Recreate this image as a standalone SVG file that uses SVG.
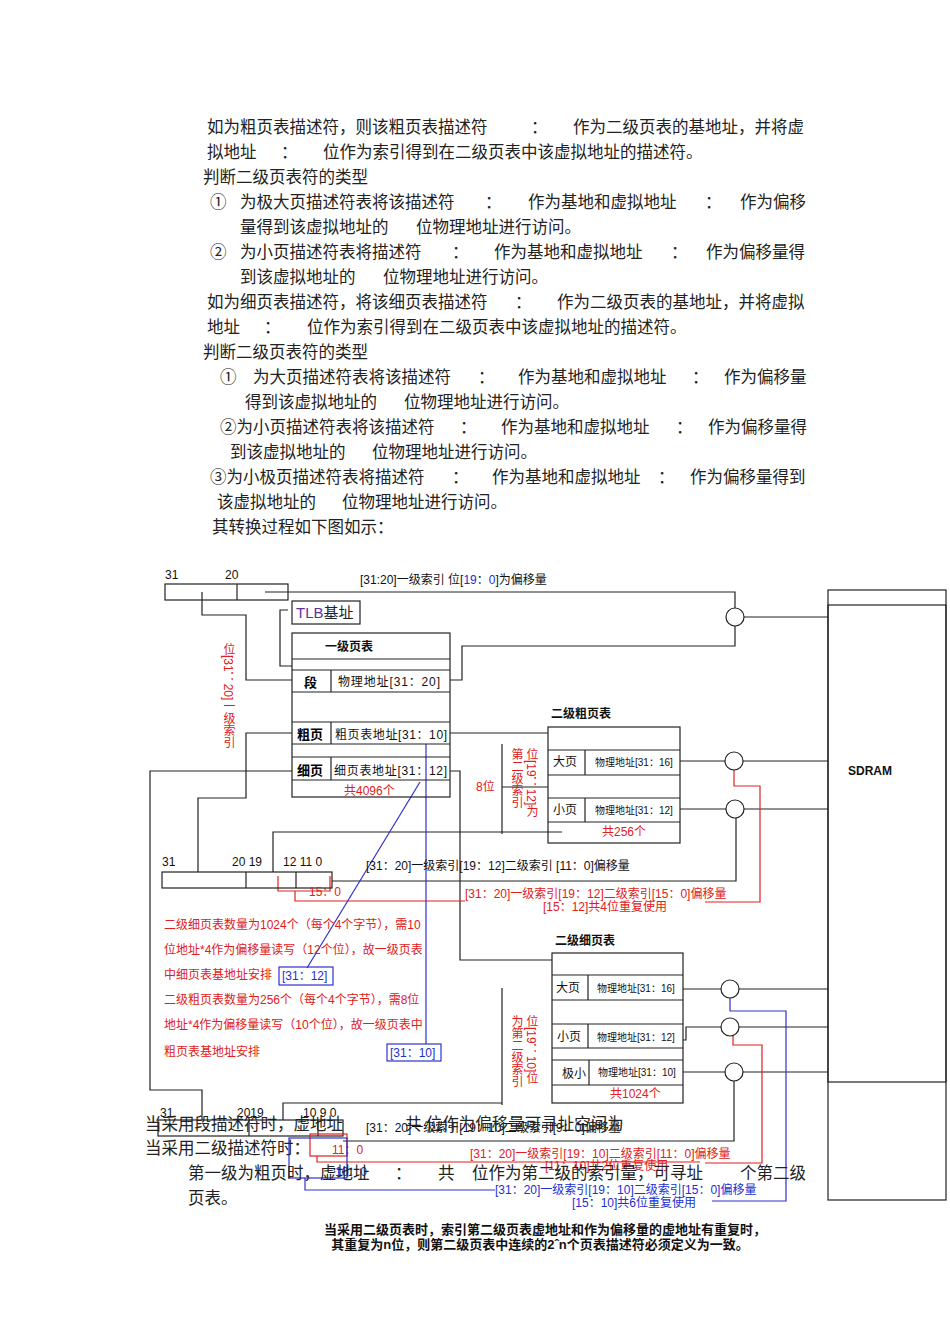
<svg xmlns="http://www.w3.org/2000/svg" width="950" height="1344" viewBox="0 0 950 1344">
<style>
text{font-family:"Liberation Sans","Noto Sans CJK SC",sans-serif}
.p{font-size:16.5px;fill:#222;font-family:"Liberation Serif","Noto Sans CJK SC",serif}
.s{font-size:12px;fill:#111}
.t{font-size:10px;fill:#111}
.b{font-weight:bold}
.r{fill:#e02020}
.u{fill:#2030d0}
.k{fill:none;stroke:#222;stroke-width:1.2}
.kr{fill:none;stroke:#e02020;stroke-width:1.2}
.kb{fill:none;stroke:#3030d0;stroke-width:1.2}
.c{fill:#fff;stroke:#222;stroke-width:1.2}
.v{writing-mode:tb;font-size:12px}
</style>
<rect width="950" height="1344" fill="#fff"/>
<g id="paragraph">
<text class="p" x="207" y="133">如为粗页表描述符，则该粗页表描述符</text><text class="p" x="531" y="133">：</text><text class="p" x="573" y="133">作为二级页表的基地址，并将虚</text>
<text class="p" x="207" y="158">拟地址</text><text class="p" x="281" y="158">：</text><text class="p" x="323" y="158">位作为索引得到在二级页表中该虚拟地址的描述符。</text>
<text class="p" x="203" y="183">判断二级页表符的类型</text>
<text class="p" x="210" y="208">①</text><text class="p" x="240" y="208">为极大页描述符表将该描述符</text><text class="p" x="485" y="208">：</text><text class="p" x="528" y="208">作为基地和虚拟地址</text><text class="p" x="705" y="208">：</text><text class="p" x="740" y="208">作为偏移</text>
<text class="p" x="240" y="233">量得到该虚拟地址的</text><text class="p" x="416" y="233">位物理地址进行访问。</text>
<text class="p" x="210" y="258">②</text><text class="p" x="240" y="258">为小页描述符表将描述符</text><text class="p" x="452" y="258">：</text><text class="p" x="494" y="258">作为基地和虚拟地址</text><text class="p" x="671" y="258">：</text><text class="p" x="706" y="258">作为偏移量得</text>
<text class="p" x="240" y="283">到该虚拟地址的</text><text class="p" x="383" y="283">位物理地址进行访问。</text>
<text class="p" x="207" y="308">如为细页表描述符，将该细页表描述符</text><text class="p" x="515" y="308">：</text><text class="p" x="557" y="308">作为二级页表的基地址，并将虚拟</text>
<text class="p" x="207" y="333">地址</text><text class="p" x="264" y="333">：</text><text class="p" x="307" y="333">位作为索引得到在二级页表中该虚拟地址的描述符。</text>
<text class="p" x="203" y="358">判断二级页表符的类型</text>
<text class="p" x="220" y="383">①</text><text class="p" x="253" y="383">为大页描述符表将该描述符</text><text class="p" x="478" y="383">：</text><text class="p" x="518" y="383">作为基地和虚拟地址</text><text class="p" x="692" y="383">：</text><text class="p" x="724" y="383">作为偏移量</text>
<text class="p" x="245" y="408">得到该虚拟地址的</text><text class="p" x="404" y="408">位物理地址进行访问。</text>
<text class="p" x="220" y="433">②为小页描述符表将该描述符</text><text class="p" x="460" y="433">：</text><text class="p" x="501" y="433">作为基地和虚拟地址</text><text class="p" x="676" y="433">：</text><text class="p" x="708" y="433">作为偏移量得</text>
<text class="p" x="230" y="458">到该虚拟地址的</text><text class="p" x="372" y="458">位物理地址进行访问。</text>
<text class="p" x="210" y="483">③为小极页描述符表将描述符</text><text class="p" x="452" y="483">：</text><text class="p" x="492" y="483">作为基地和虚拟地址</text><text class="p" x="658" y="483">：</text><text class="p" x="690" y="483">作为偏移量得到</text>
<text class="p" x="217" y="508">该虚拟地址的</text><text class="p" x="342" y="508">位物理地址进行访问。</text>
<text class="p" x="212" y="533">其转换过程如下图如示：</text>
</g>
<g id="connectors">
<polyline class="k" points="265,592 735,592 735,608"/>
<line class="k" x1="744" y1="617" x2="828" y2="617"/>
<polyline class="k" points="288,610 280,610 280,666 292,666"/>
<polyline class="k" points="202,592 202,615 246,615 246,680 292,680"/>
<polyline class="k" points="450,680 462,680 462,646 735,646 735,626"/>
<polyline class="k" points="450,733 548,733"/>
<polyline class="k" points="292,733 246,733 246,798 198,798 198,872"/>
<polyline class="k" points="292,771 150,771 150,1090 202,1090 202,1120"/>
<polyline class="k" points="450,771 460,771 460,960 552,960"/>
<polyline class="k" points="273,872 273,832 562,832"/>
<line class="k" x1="502" y1="744" x2="502" y2="834"/>
<line class="k" x1="502" y1="787" x2="548" y2="787"/>
<line class="k" x1="680" y1="761" x2="725" y2="761"/>
<line class="k" x1="743" y1="761" x2="828" y2="761"/>
<line class="k" x1="680" y1="809" x2="726" y2="809"/>
<line class="k" x1="744" y1="809" x2="828" y2="809"/>
<polyline class="k" points="736,818 736,881 332,881"/>
<polyline class="kr" points="734,770 734,786 760,786 760,902 705,902"/>
<polyline class="kr" points="278,876 278,891 330,891 330,876"/>
<polyline class="kr" points="295,891 295,901 465,901"/>
<line class="kb" x1="420" y1="782" x2="307" y2="968"/>
<line class="kb" x1="426" y1="744" x2="426" y2="1044"/>
<line class="k" x1="502" y1="988" x2="502" y2="1105"/>
<polyline class="k" points="283,1120 283,1103 502,1103"/>
<line class="k" x1="683" y1="989" x2="721" y2="989"/>
<line class="k" x1="739" y1="989" x2="828" y2="989"/>
<polyline class="k" points="683,1040 686,1040 686,1027 721,1027"/>
<line class="k" x1="739" y1="1027" x2="828" y2="1027"/>
<line class="k" x1="683" y1="1072" x2="725" y2="1072"/>
<line class="k" x1="743" y1="1072" x2="828" y2="1072"/>
<polyline class="k" points="734,1081 734,1141 343,1141"/>
<polyline class="kr" points="733,1036 733,1045 762,1045 762,1163 705,1163"/>
<polyline class="kb" points="730,998 730,1011 786,1011 786,1201 712,1201"/>
<polyline class="kr" points="317,1156 317,1162 700,1162"/>
<polyline class="kb" points="305,1178 305,1190 495,1190"/>
</g>
<g id="bar1">
<rect class="k" x="165" y="584" width="123" height="16"/>
<line class="k" x1="237" y1="584" x2="237" y2="600"/>
<text class="s" x="165" y="579">31</text><text class="s" x="225" y="579">20</text>
<text class="s" x="360" y="584">[31:20]一级索引 位[<tspan class="u">19</tspan>：<tspan class="u">0</tspan>]为偏移量</text>
</g>
<g id="tlb">
<rect class="k" x="292" y="601" width="68" height="23"/>
<text x="296" y="618" font-size="15" fill="#222"><tspan fill="#6030a0">TLB</tspan>基址</text>
</g>
<g id="l1table">
<rect class="k" x="292" y="633" width="158" height="164"/>
<line class="k" x1="292" y1="659" x2="450" y2="659"/>
<line class="k" x1="292" y1="670" x2="450" y2="670"/>
<line class="k" x1="292" y1="692" x2="450" y2="692"/>
<line class="k" x1="292" y1="722" x2="450" y2="722"/>
<line class="k" x1="292" y1="744" x2="450" y2="744"/>
<line class="k" x1="292" y1="757" x2="450" y2="757"/>
<line class="k" x1="292" y1="780" x2="450" y2="780"/>
<line class="k" x1="331" y1="670" x2="331" y2="692"/>
<line class="k" x1="331" y1="722" x2="331" y2="744"/>
<line class="k" x1="331" y1="757" x2="331" y2="780"/>
<text class="s b" x="325" y="651">一级页表</text>
<text class="b" x="304" y="687" font-size="13">段</text><text class="s" x="338" y="686" textLength="102">物理地址[31：20]</text>
<text class="b" x="297" y="739" font-size="13">粗页</text><text class="s" x="335" y="739" textLength="112">粗页表地址[31：10]</text>
<text class="b" x="297" y="775" font-size="13">细页</text><text class="s" x="334" y="775" textLength="113">细页表地址[31：12]</text>
<text class="s r" x="344" y="795">共4096个</text>
<text class="v r" x="228" y="643">位[31：20]一级索引</text>
</g>
<g id="l2coarse">
<text class="s b" x="551" y="718">二级粗页表</text>
<rect class="k" x="548" y="727" width="132" height="116"/>
<line class="k" x1="548" y1="750" x2="680" y2="750"/>
<line class="k" x1="548" y1="775" x2="680" y2="775"/>
<line class="k" x1="548" y1="798" x2="680" y2="798"/>
<line class="k" x1="548" y1="822" x2="680" y2="822"/>
<line class="k" x1="585" y1="750" x2="585" y2="775"/>
<line class="k" x1="585" y1="798" x2="585" y2="822"/>
<text class="s" x="553" y="766">大页</text><text class="t" x="595" y="766">物理地址[31：16]</text>
<text class="s" x="553" y="814">小页</text><text class="t" x="595" y="814">物理地址[31：12]</text>
<text class="s r" x="602" y="836">共256个</text>
<text class="s r" x="476" y="791">8位</text>
<text class="v r" x="531" y="748">位[19：12]为</text>
<text class="v r" x="516" y="748">第二级索引</text>
<circle class="c" cx="734" cy="761" r="9"/><circle class="c" cx="735" cy="809" r="9"/>
</g>
<g id="sdram">
<rect class="k" x="828" y="590" width="118" height="610"/>
<rect class="k" x="828" y="605" width="118" height="477"/>
<text x="848" y="775" font-size="12" class="b" fill="#111" font-family="Liberation Serif,serif">SDRAM</text>
<circle class="c" cx="735" cy="617" r="9"/>
</g>
<g id="bar2">
<rect class="k" x="162" y="872" width="170" height="16"/>
<line class="k" x1="246" y1="872" x2="246" y2="888"/>
<line class="k" x1="296" y1="872" x2="296" y2="888"/>
<text class="s" x="162" y="866">31</text><text class="s" x="232" y="866">20 19</text><text class="s" x="283" y="866">12 11 0</text>
<text class="s" x="366" y="870">[31：20]一级索引[19：12]二级索引  [11：0]偏移量</text>
<text class="s r" x="309" y="896">15：0</text>
<text class="s r" x="465" y="898">[31：20]一级索引[19：12]二级索引[15：0]偏移量</text>
<text class="s r" x="543" y="911">[15：12]共4位重复使用</text>
</g>
<g id="notes">
<text class="s r" x="164" y="929">二级细页表数量为1024个（每个4个字节），需10</text>
<text class="s r" x="164" y="954">位地址*4作为偏移量读写（12个位），故一级页表</text>
<text class="s r" x="164" y="979">中细页表基地址安排</text>
<text class="s u" x="282" y="980">[31：12]</text>
<rect class="kb" x="279" y="967" width="54" height="18"/>
<text class="s r" x="164" y="1004">二级粗页表数量为256个（每个4个字节），需8位</text>
<text class="s r" x="164" y="1029">地址*4作为偏移量读写（10个位），故一级页表中</text>
<text class="s r" x="164" y="1056">粗页表基地址安排</text>
<text class="s u" x="390" y="1057">[31：10]</text>
<rect class="kb" x="387" y="1044" width="54" height="17"/>
</g>
<g id="l2fine">
<text class="s b" x="555" y="945">二级细页表</text>
<rect class="k" x="552" y="953" width="131" height="150"/>
<line class="k" x1="552" y1="975" x2="683" y2="975"/>
<line class="k" x1="552" y1="1000" x2="683" y2="1000"/>
<line class="k" x1="552" y1="1024" x2="683" y2="1024"/>
<line class="k" x1="552" y1="1048" x2="683" y2="1048"/>
<line class="k" x1="552" y1="1060" x2="683" y2="1060"/>
<line class="k" x1="552" y1="1085" x2="683" y2="1085"/>
<line class="k" x1="588" y1="975" x2="588" y2="1000"/>
<line class="k" x1="588" y1="1024" x2="588" y2="1048"/>
<line class="k" x1="589" y1="1060" x2="589" y2="1085"/>
<text class="s" x="556" y="992">大页</text><text class="t" x="597" y="992">物理地址[31：16]</text>
<text class="s" x="557" y="1041">小页</text><text class="t" x="597" y="1041">物理地址[31：12]</text>
<text class="s" x="562" y="1078">极小</text><text class="t" x="598" y="1076">物理地址[31：10]</text>
<text class="s r" x="610" y="1098">共1024个</text>
<text class="v r" x="531" y="1015">位[19：10]位</text>
<text class="v r" x="516" y="1015">为第二级索引</text>
<circle class="c" cx="730" cy="989" r="9"/><circle class="c" cx="730" cy="1027" r="9"/><circle class="c" cx="734" cy="1072" r="9"/>
</g>
<g id="bar3">
<rect class="k" x="158" y="1120" width="185" height="16"/>
<line class="k" x1="249" y1="1120" x2="249" y2="1136"/>
<line class="k" x1="318" y1="1120" x2="318" y2="1136"/>
<text class="s" x="160" y="1117">31</text><text class="s" x="237" y="1117">2019</text><text class="s" x="303" y="1117">10 9 0</text>
<text class="s" x="366" y="1132">[31：20]一级索引[19：10]二级索引[9：0]偏移量</text>
<rect class="kr" x="310" y="1134" width="37" height="22"/>
<text class="s r" x="332" y="1154">11：0</text>
<rect class="kb" x="289" y="1138" width="58" height="40"/>
<text class="s u" x="335" y="1176">10：0</text>
<text class="s r" x="470" y="1158">[31：20]一级索引[19：10]二级索引[11：0]偏移量</text>
<text class="s r" x="545" y="1170">[11：10]共2位重复使用</text>
<text class="s u" x="495" y="1194">[31：20]一级索引[19：10]二级索引[15：0]偏移量</text>
<text class="s u" x="572" y="1207">[15：10]共6位重复使用</text>
</g>
<g id="overlaytext">
<text class="p" x="145" y="1130">当采用段描述符时，虚地址</text>
<text class="p" x="405" y="1130">共    位作为偏移量可寻址空间为</text>
<text class="p" x="145" y="1154">当采用二级描述符时：</text>
<text class="p" x="188" y="1179">第一级为粗页时，虚地址</text><text class="p" x="395" y="1179">：</text><text class="p" x="438" y="1179">共</text><text class="p" x="472" y="1179">位作为第二级的索引量，可寻址</text><text class="p" x="740" y="1179">个第二级</text>
<text class="p" x="188" y="1204">页表。</text>
<text x="545" y="1234" font-size="13" class="b" fill="#111" text-anchor="middle">当采用二级页表时，索引第二级页表虚地址和作为偏移量的虚地址有重复时，</text>
<text x="540" y="1249" font-size="13" class="b" fill="#111" text-anchor="middle">其重复为n位，则第二级页表中连续的2ˆn个页表描述符必须定义为一致。</text>
</g>
</svg>
